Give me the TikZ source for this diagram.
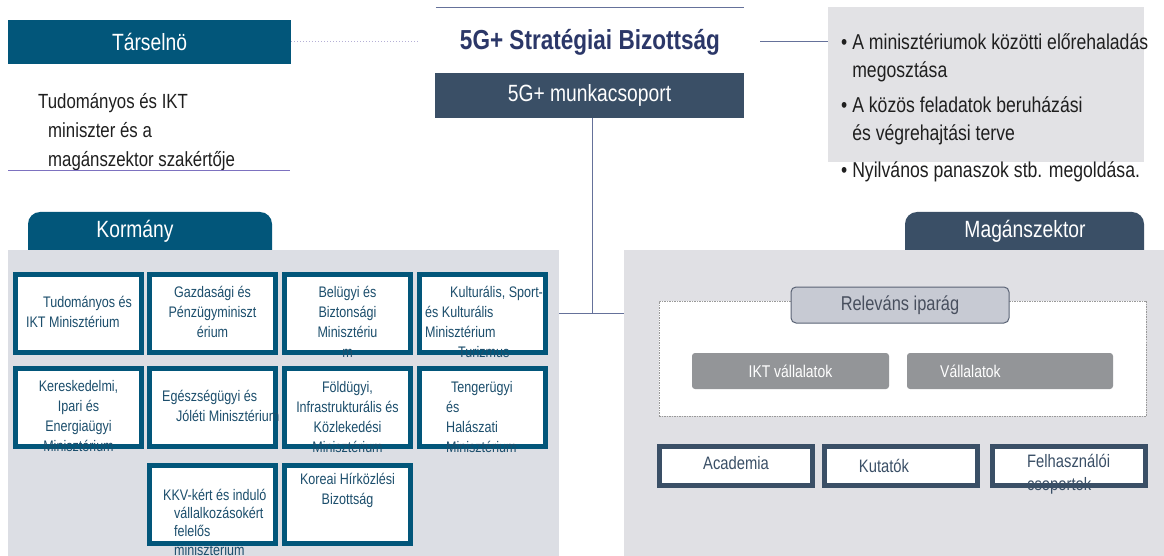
\documentclass[tikz,border=0pt]{standalone}
\usepackage{fontspec}
\setmainfont{Liberation Sans}[FakeStretch=0.82]
\usepackage{tikz}
\definecolor{govblue}{HTML}{02567A}
\definecolor{slate}{HTML}{3A4F66}
\definecolor{panelgray}{HTML}{DCDEE4}
\definecolor{privgray}{HTML}{E0E0E4}
\definecolor{notegray}{HTML}{E2E2E5}
\definecolor{titleblue}{HTML}{2B3768}
\definecolor{mintext}{HTML}{1C4E6C}
\definecolor{linegray}{HTML}{65719A}
\definecolor{linepurple}{HTML}{7D72C0}
\definecolor{dotpurple}{HTML}{B5B0D6}
\definecolor{relfill}{HTML}{C7CAD3}
\definecolor{reldraw}{HTML}{5A6375}
\definecolor{compfill}{HTML}{939598}
\tikzset{
    conn/.style={draw=linegray, line width=1pt},
    headbox/.style={text=white, font=\fontsize{23.5}{27}\selectfont, inner sep=0pt},
    ministry/.style={draw=govblue, line width=5pt, fill=white, minimum width=126pt, minimum height=78pt, inner sep=0pt},
    mintext/.style={text=mintext, font=\fontsize{15.3}{20}\selectfont, align=center, inner sep=0pt},
    orgbox/.style={draw=slate, line width=5pt, fill=white, minimum width=153pt, minimum height=39pt, inner sep=0pt},
    orgtext/.style={text=slate, font=\fontsize{18}{23}\selectfont, align=left, inner sep=0pt},
    company/.style={fill=compfill, rounded corners=3pt, minimum width=197pt, minimum height=36pt, inner sep=0pt},
}
\begin{document}
\begin{tikzpicture}[x=1pt, y=-1pt]
\useasboundingbox[fill=white] (0,0) rectangle (1164,556);

% top row
\node[fill=govblue, minimum width=283pt, minimum height=44pt, headbox] (tars) at (149.5,42) {Társelnö};
\node[minimum width=308pt, minimum height=68pt, inner sep=0pt, text=titleblue, font=\fontsize{27.5}{31}\selectfont\bfseries] (title) at (590,42) {5G+ Stratégiai Bizottság};
\draw[conn] (title.north west) -- (title.north east);
\node[fill=slate, minimum width=309pt, minimum height=45pt, headbox] (work) at (589.5,95.5) {5G+ munkacsoport};
\node[fill=notegray, minimum width=316pt, minimum height=155pt, inner sep=0pt] (tasks) at (986,84.5) {};
\node[anchor=west, align=left, inner sep=0pt, text=black!88, font=\fontsize{21.5}{28}\selectfont] (bullets) at (841,107.5)
    {•\ A minisztériumok közötti előrehaladás\\\phantom{•\ }megosztása\\[7pt]
     •\ A közös feladatok beruházási\\\phantom{•\ }és végrehajtási terve\\[9pt]
     •\ Nyilvános panaszok stb. megoldása.};
\draw[conn, draw=dotpurple, dotted] (tars.east) -- ([xshift=-16pt]title.west);
\draw[conn] ([xshift=16pt]title.east) -- (title.east -| tasks.west);

\node[anchor=west, align=left, inner sep=0pt, text=black!88, font=\fontsize{20.5}{29}\selectfont] (desc) at (38,132)
    {Tudományos és IKT\\\hspace*{10pt}miniszter és a\\\hspace*{10pt}magánszektor szakértője};
\draw[linepurple, line width=0.8pt] (8,170) -- (290,170);

% panels
\fill[govblue, rounded corners=12pt] (28,250) -- (28,212) -- (272,212) -- (272,250);
\node[headbox] (govtab) at (135,231) {Kormány};
\fill[slate, rounded corners=12pt] (905,250) -- (905,212) -- (1144,212) -- (1144,250);
\node[headbox] (privtab) at (1025,231) {Magánszektor};
\node[fill=panelgray, minimum width=551pt, minimum height=306pt, inner sep=0pt] (govpanel) at (283.5,403) {};
\node[fill=privgray, minimum width=540pt, minimum height=306pt, inner sep=0pt] (privpanel) at (894,403) {};

\coordinate (hub) at (592,313);
\draw[conn] (work.south -| hub) -- (hub);
\draw[conn] (govpanel.east |- hub) -- (privpanel.west |- hub);

% ministries
\node[ministry] (mTud) at (78.5,313.5) {};
\node[ministry] (mGazd) at (212.5,313.5) {};
\node[ministry] (mBel) at (347.5,313.5) {};
\node[ministry] (mKult) at (482,313.5) {};
\node[ministry] (mKer) at (78.5,407.5) {};
\node[ministry] (mEg) at (212.5,407.5) {};
\node[ministry] (mFold) at (347.5,407.5) {};
\node[ministry] (mTeng) at (482,407.5) {};
\node[ministry] (mKkv) at (212.5,504) {};
\node[ministry] (mKor) at (347.5,504) {};

\node[mintext, align=left] (tTud) at (79,312) {\hspace*{17pt}Tudományos és\\IKT Minisztérium};
\node[mintext] (tGazd) at (212.5,312) {Gazdasági és\\Pénzügyminiszt\\érium};
\node[mintext] (tBel) at (347.5,322) {Belügyi és\\Biztonsági\\Minisztériu\\m};
\node[mintext, align=left, anchor=west] (tKult) at (425,322) {\hspace*{25pt}Kulturális, Sport-\\és Kulturális\\Minisztérium\\\hspace*{33pt}Turizmus};
\node[mintext] (tKer) at (78.5,416.5) {Kereskedelmi,\\Ipari és\\Energiaügyi\\Minisztérium};
\node[mintext, align=left, anchor=west] (tEg) at (162,406) {Egészségügyi és\\\hspace*{14pt}Jóléti Minisztérium};
\node[mintext] (tFold) at (347.5,417) {Földügyi,\\Infrastrukturális és\\Közlekedési\\Minisztérium};
\node[mintext, align=left, anchor=west] (tTeng) at (446,417) {\hspace*{5pt}Tengerügyi\\és\\Halászati\\Minisztérium};
\node[mintext, align=left, anchor=west, font=\fontsize{15.3}{18.3}\selectfont] (tKkv) at (163,522) {KKV-kért és induló\\\hspace*{11pt}vállalkozásokért\\\hspace*{11pt}felelős\\\hspace*{11pt}minisztérium};
\node[mintext] (tKor) at (347.5,490) {Koreai Hírközlési\\Bizottság};

% private sector
\node[draw=gray!80, dashed, dash pattern=on 1.5pt off 1pt, fill=white, minimum width=487pt, minimum height=115pt, inner sep=0pt] (sector) at (902.5,358.5) {};
\node[fill=relfill, draw=reldraw, line width=1pt, rounded corners=5pt, minimum width=218pt, minimum height=36pt, inner sep=0pt, text=reldraw!80!black, font=\fontsize{20}{24}\selectfont] (rel) at (900,305) {Releváns iparág};
\node[company, text=white, font=\fontsize{17}{20}\selectfont] (ikt) at (790.5,371) {IKT vállalatok};
\node[company, minimum width=206pt] (vall) at (1010,371) {};
\node[anchor=west, inner sep=0pt, text=white, font=\fontsize{17}{20}\selectfont] (tvall) at (940,371) {Vállalatok};

\node[orgbox] (acad) at (736,466) {};
\node[orgbox] (kut) at (901,466) {};
\node[orgbox] (felh) at (1069,466) {};
\node[orgtext] (tacad) at (736,463) {Academia};
\node[orgtext] (tkut) at (884,466) {Kutatók};
\node[orgtext, anchor=west] (tfelh) at (1027,474.5) {Felhasználói\\csoportok};
\end{tikzpicture}
\end{document}
